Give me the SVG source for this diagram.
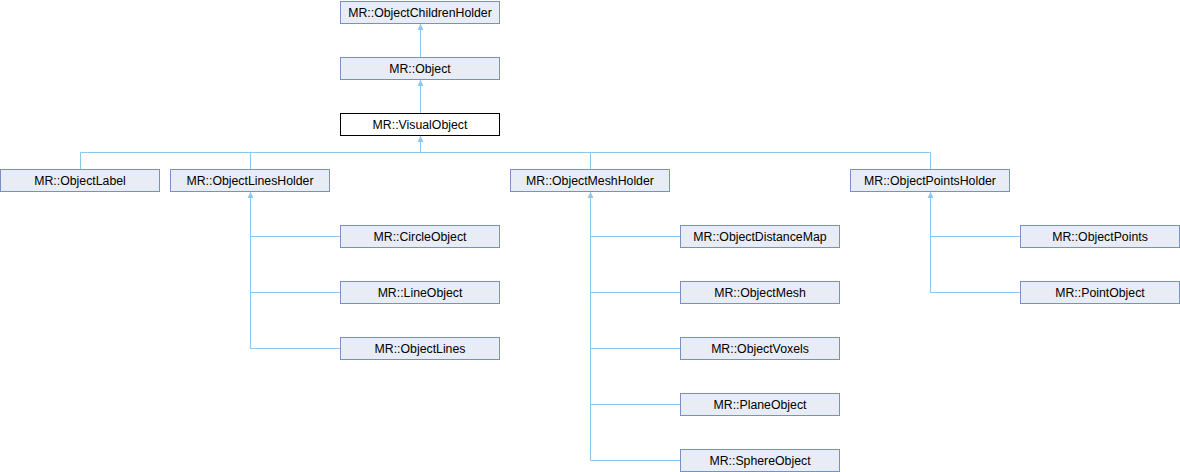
<svg xmlns="http://www.w3.org/2000/svg" xmlns:xlink="http://www.w3.org/1999/xlink" width="1180" height="472" viewBox="0 0 1180 472">
<style>
.n rect{fill:#e8ecf5;stroke:#7a8fc8;stroke-width:1}
.n.cur rect{fill:#ffffff;stroke:#000000}
.n text{font-family:"Liberation Sans",Arial,sans-serif;font-size:12.3px;fill:#000;text-anchor:middle}
.c path{fill:none;stroke:#8cc8ec;stroke-width:1}
.c use{fill:#8cc8ec}
</style>
<defs>
<path id="arr" d="M0,0 L3,6 L-3,6 Z"/>
</defs>
<rect width="1180" height="472" fill="#ffffff"/>
<g id="connectors" class="c">
<path d="M420.5,24 V57"/>
<path d="M420.5,80 V113"/>
<path d="M420.5,136 V152.5 M80.5,152.5 H930.5 M80.5,152.5 V169 M250.5,152.5 V169 M590.5,152.5 V169 M930.5,152.5 V169"/>
<path d="M250.5,192 V348.5 M250.5,236.5 H340 M250.5,292.5 H340 M250.5,348.5 H340"/>
<path d="M590.5,192 V460.5 M590.5,236.5 H680 M590.5,292.5 H680 M590.5,348.5 H680 M590.5,404.5 H680 M590.5,460.5 H680"/>
<path d="M930.5,192 V292.5 M930.5,236.5 H1020 M930.5,292.5 H1020"/>
<use xlink:href="#arr" x="420.5" y="24"/>
<use xlink:href="#arr" x="420.5" y="80"/>
<use xlink:href="#arr" x="420.5" y="136"/>
<use xlink:href="#arr" x="250.5" y="192"/>
<use xlink:href="#arr" x="590.5" y="192"/>
<use xlink:href="#arr" x="930.5" y="192"/>
</g>
<g id="ObjectChildrenHolder" class="n"><rect x="340.5" y="1.5" width="159" height="22"/><text x="420" y="17">MR::ObjectChildrenHolder</text></g>
<g id="Object" class="n"><rect x="340.5" y="57.5" width="159" height="22"/><text x="420" y="73">MR::Object</text></g>
<g id="VisualObject" class="n cur"><rect x="340.5" y="113.5" width="159" height="22"/><text x="420" y="129">MR::VisualObject</text></g>
<g id="ObjectLabel" class="n"><rect x="0.5" y="169.5" width="159" height="22"/><text x="80" y="185">MR::ObjectLabel</text></g>
<g id="ObjectLinesHolder" class="n"><rect x="170.5" y="169.5" width="159" height="22"/><text x="250" y="185">MR::ObjectLinesHolder</text></g>
<g id="ObjectMeshHolder" class="n"><rect x="510.5" y="169.5" width="159" height="22"/><text x="590" y="185">MR::ObjectMeshHolder</text></g>
<g id="ObjectPointsHolder" class="n"><rect x="850.5" y="169.5" width="159" height="22"/><text x="930" y="185">MR::ObjectPointsHolder</text></g>
<g id="CircleObject" class="n"><rect x="340.5" y="225.5" width="159" height="22"/><text x="420" y="241">MR::CircleObject</text></g>
<g id="LineObject" class="n"><rect x="340.5" y="281.5" width="159" height="22"/><text x="420" y="297">MR::LineObject</text></g>
<g id="ObjectLines" class="n"><rect x="340.5" y="337.5" width="159" height="22"/><text x="420" y="353">MR::ObjectLines</text></g>
<g id="ObjectDistanceMap" class="n"><rect x="680.5" y="225.5" width="159" height="22"/><text x="760" y="241">MR::ObjectDistanceMap</text></g>
<g id="ObjectMesh" class="n"><rect x="680.5" y="281.5" width="159" height="22"/><text x="760" y="297">MR::ObjectMesh</text></g>
<g id="ObjectVoxels" class="n"><rect x="680.5" y="337.5" width="159" height="22"/><text x="760" y="353">MR::ObjectVoxels</text></g>
<g id="PlaneObject" class="n"><rect x="680.5" y="393.5" width="159" height="22"/><text x="760" y="409">MR::PlaneObject</text></g>
<g id="SphereObject" class="n"><rect x="680.5" y="449.5" width="159" height="22"/><text x="760" y="465">MR::SphereObject</text></g>
<g id="ObjectPoints" class="n"><rect x="1020.5" y="225.5" width="159" height="22"/><text x="1100" y="241">MR::ObjectPoints</text></g>
<g id="PointObject" class="n"><rect x="1020.5" y="281.5" width="159" height="22"/><text x="1100" y="297">MR::PointObject</text></g>
</svg>
